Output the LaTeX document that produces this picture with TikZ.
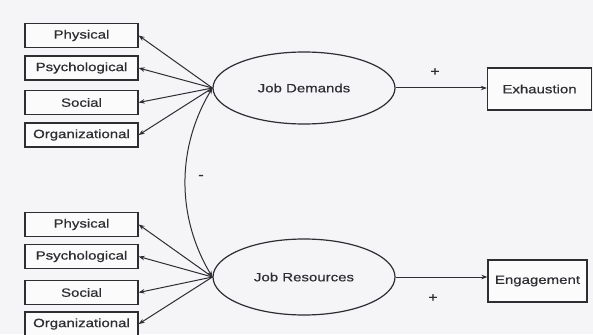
\documentclass[tikz,border=0pt]{standalone}
\usepackage{fontspec}
\setmainfont{Liberation Sans}
\newfontfamily\diagfont{Liberation Sans}[FakeStretch=1.25,FakeBold=0.6]
\usetikzlibrary{arrows.meta,calc,shapes.geometric}
\definecolor{paper}{RGB}{245,245,247}
\definecolor{ink}{RGB}{45,45,50}
\tikzset{
  every node/.style={font=\diagfont\fontsize{12}{14}\selectfont, text=ink},
  itembox/.style={draw=ink, line width=1.3pt, fill=white!60!paper, rectangle,
    minimum width=113pt, minimum height=24pt, inner sep=0pt},
  outbox/.style={draw=ink, line width=1.3pt, fill=white!60!paper, rectangle,
    minimum height=42pt, inner sep=0pt},
  latent/.style={draw=ink, line width=1.2pt, ellipse, inner sep=0pt,
    minimum width=182pt, minimum height=72pt},
  link/.style={draw=ink, line width=1pt, -{Stealth[length=6pt,width=4.5pt]}},
  sign/.style={font=\diagfont\fontsize{13}{14}\selectfont}
}
\begin{document}
\begin{tikzpicture}[x=1pt,y=-1pt]
\useasboundingbox (0,0) rectangle (593,334);
\fill[paper] (0,0) rectangle (593,334);

% demand facets
\node[itembox] (d1) at (81.5,35.5) {Physical};
\node[itembox] (d2) at (81.5,68) {Psychological};
\node[itembox] (d3) at (81.5,102.5) {Social};
\node[itembox] (d4) at (81.5,135) {Organizational};

% resource facets
\node[itembox] (r1) at (81.5,224.5) {Physical};
\node[itembox] (r2) at (81.5,256.5) {Psychological};
\node[itembox] (r3) at (81.5,292.5) {Social};
\node[itembox] (r4) at (81.5,324) {Organizational};

% latent factors
\node[latent] (jd) at (304,88) {Job Demands};
\node[latent, minimum height=76pt] (jr) at (304,277) {Job Resources};

% outcomes
\node[outbox, minimum width=104pt] (ex) at (539.5,89) {Exhaustion};
\node[outbox, minimum width=99pt] (en) at (537.5,281) {Engagement};

% loadings
\foreach \b in {d1,d2,d3,d4} \draw[link] (jd.west) -- (\b.east);
\foreach \b in {r1,r2,r3,r4} \draw[link] (jr.west) -- (\b.east);

% covariance between the two factors
\draw[ink, line width=1pt, {Stealth[length=6pt,width=4.5pt]}-{Stealth[length=6pt,width=4.5pt]}]
  (jd.west) .. controls +(-36,60) and +(-36,-60) .. (jr.west);
\node[sign] (neg) at (201,177) {-};

% paths to outcomes
\draw[link] (jd.east) -- (ex.west |- jd.east);
\draw[link] (jr.east) -- (en.west |- jr.east);
\node[sign] (p1) at (435,72) {+};
\node[sign] (p2) at (433,298) {+};
\end{tikzpicture}
\end{document}
